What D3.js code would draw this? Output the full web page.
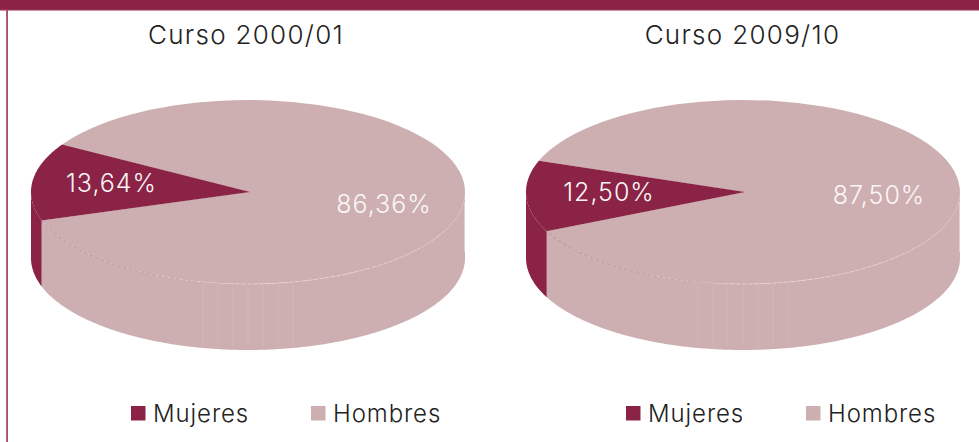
<!DOCTYPE html>
<html>
<head>
<meta charset="utf-8">
<style>
html, body { margin: 0; padding: 0; background: #fff; }
svg { display: block; }
</style>
<script src="https://cdn.jsdelivr.net/npm/d3@7"></script>
</head>
<body>
<div id="chart-area"></div>
<script>
var categories = ['Mujeres', 'Hombres'];
var titles = ['Curso 2000/01', 'Curso 2009/10'];
var values2000 = [13.64, 86.36];
var values2009 = [12.50, 87.50];
var labels2000 = ['13,64%', '86,36%'];
var labels2009 = ['12,50%', '87,50%'];

var width = 979, height = 442;
var dark = '#8a2346', light = '#ceafb1';
var font = 'Inter, "DejaVu Sans", sans-serif';
var color = d3.scaleOrdinal().domain(categories).range([dark, light]);

var svg = d3.select('#chart-area').append('svg')
	.attr('width', width)
	.attr('height', height);

// header bar and left rule of the page frame
svg.append('rect').attr('x', 0).attr('y', 0).attr('width', width).attr('height', 10).attr('fill', dark);
svg.append('rect').attr('x', 0).attr('y', 9.6).attr('width', width).attr('height', 1).attr('fill', '#ab4a6c');
svg.append('rect').attr('x', 6.2).attr('y', 10).attr('width', 1.7).attr('height', height - 10).attr('fill', '#a03f62');

var rad = d => d * Math.PI / 180;

var panels = [
	{ title: titles[0], values: values2000, labels: labels2000, cx: 248, titleX: 246, start: 252,
		labelPos: [[111.5, 192], [384, 213]], legendX: [131, 311], gid: 'edge1' },
	{ title: titles[1], values: values2009, labels: labels2009, cx: 743, titleX: 742.5, start: 244.8,
		labelPos: [[609, 201], [879, 204]], legendX: [626, 806], gid: 'edge2' }
];

var rx = 217, ry = 92, cy = 192, depth = 66;

panels.forEach(p => {
	var g = svg.append('g');
	var px = a => p.cx + rx * Math.sin(a);
	var py = a => cy - ry * Math.cos(a);

	var slices = d3.pie().sort(null)
		.startAngle(rad(p.start))
		.endAngle(rad(p.start) + 2 * Math.PI)(p.values);

	var side = d3.area().x(a => px(a)).y0(a => py(a)).y1(a => py(a) + depth);

	// front wall: only the part of each slice between 90 and 270 degrees shows
	g.append('path')
		.attr('d', side(d3.range(90, p.start + 0.5, 0.5).map(rad)))
		.attr('fill', light);
	g.append('path')
		.attr('d', side(d3.range(p.start, 270.5, 0.5).map(rad)))
		.attr('fill', dark);

	// faint seams on the wall
	d3.range(168, 196, 4).forEach(d => {
		g.append('line')
			.attr('x1', px(rad(d))).attr('x2', px(rad(d)))
			.attr('y1', py(rad(d)) + 2).attr('y2', py(rad(d)) + depth - 2)
			.attr('stroke', '#dcc6c8').attr('stroke-width', 1).attr('opacity', 0.3);
	});

	// light rim on the right end of the wall
	g.append('line')
		.attr('x1', px(rad(90)) - 0.5).attr('x2', px(rad(90)) - 0.5)
		.attr('y1', cy + 10).attr('y2', cy + 60)
		.attr('stroke', '#e2d0d1').attr('stroke-width', 1);

	// top face, the small slice goes on top with its tip a little right of centre
	var arc = d3.arc().innerRadius(0).outerRadius(1);
	g.append('g')
		.attr('transform', `translate(${p.cx}, ${cy}) scale(${rx}, ${ry})`)
		.append('path')
			.attr('d', arc(slices[1]))
			.attr('fill', color(categories[1]));
	var rim = d3.range(slices[0].startAngle, slices[0].endAngle, 0.01).concat(slices[0].endAngle);
	var tip = [p.cx + 2, cy];
	g.append('path')
		.attr('d', d3.line()([tip].concat(rim.map(a => [px(a), py(a)]))) + 'Z')
		.attr('fill', color(categories[0]));

	// front edge of the top face, dashed and fading to the right
	var grad = svg.append('linearGradient').attr('id', p.gid)
		.attr('gradientUnits', 'userSpaceOnUse')
		.attr('x1', px(rad(p.start))).attr('x2', px(rad(115)))
		.attr('y1', 0).attr('y2', 0);
	grad.append('stop').attr('offset', '0%').attr('stop-color', '#b5808c');
	grad.append('stop').attr('offset', '35%').attr('stop-color', '#c49aa2');
	grad.append('stop').attr('offset', '50%').attr('stop-color', '#e6d8d8');
	grad.append('stop').attr('offset', '100%').attr('stop-color', '#e0cdce');

	g.append('path')
		.attr('d', d3.line().x(a => px(a)).y(a => py(a))(d3.range(115, p.start + 0.5, 0.5).map(rad)))
		.attr('fill', 'none')
		.attr('stroke', `url(#${p.gid})`)
		.attr('stroke-width', 0.8)
		.attr('stroke-dasharray', '4 2');

	// title
	g.append('text')
		.attr('x', p.titleX).attr('y', 44)
		.attr('text-anchor', 'middle')
		.attr('font-family', font).attr('font-size', '26px').attr('font-weight', 300)
		.attr('letter-spacing', '1.3px')
		.attr('fill', '#222')
		.text(p.title);

	// value labels
	g.selectAll('text.value').data(p.labels).enter()
		.append('text')
			.attr('class', 'value')
			.attr('x', (d, i) => p.labelPos[i][0])
			.attr('y', (d, i) => p.labelPos[i][1])
			.attr('text-anchor', 'middle')
			.attr('font-family', font).attr('font-size', '25px').attr('font-weight', 300)
			.attr('letter-spacing', '1px')
			.attr('fill', '#fbf6f6')
			.text(d => d);

	// legend
	categories.forEach((c, i) => {
		g.append('rect')
			.attr('x', p.legendX[i]).attr('y', 406)
			.attr('width', 14.5).attr('height', 14.5)
			.attr('fill', color(c));
		g.append('text')
			.attr('x', p.legendX[i] + 22).attr('y', 422)
			.attr('font-family', font).attr('font-size', '24px').attr('font-weight', 300)
			.attr('letter-spacing', '0.9px')
			.attr('fill', '#222')
			.text(c);
	});
});
</script>
</body>
</html>
